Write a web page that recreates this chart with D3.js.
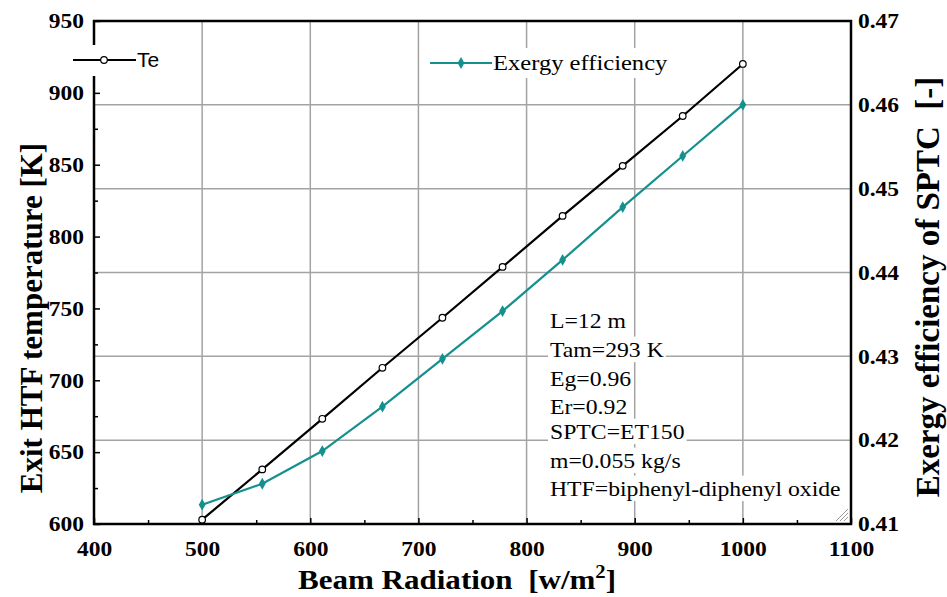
<!DOCTYPE html>
<html><head><meta charset="utf-8">
<script src="https://cdn.jsdelivr.net/npm/d3@7"></script>
<style>html,body{margin:0;padding:0;background:#fff;}svg{display:block;} text{white-space:pre;}</style>
</head><body>
<svg id="chart" width="947" height="597"></svg>
<script>
const radiation = [500, 555.6, 611.1, 666.7, 722.2, 777.8, 833.3, 888.9, 944.4, 1000];
const exitTemp = [603, 638, 673.2, 708.7, 743.5, 778.9, 814.4, 849.2, 883.9, 920.1];
const exergyEff = [0.4123, 0.4148, 0.4187, 0.4240, 0.4297, 0.4354, 0.4415, 0.4478, 0.4539, 0.4600];
const xTicks = [400, 500, 600, 700, 800, 900, 1000, 1100];
const yLeftTicks = [600, 650, 700, 750, 800, 850, 900, 950];
const yRightTicks = [0.41, 0.42, 0.43, 0.44, 0.45, 0.46, 0.47];
const notes = ["L=12 m", "Tam=293 K", "Eg=0.96", "Er=0.92", "SPTC=ET150", "m=0.055 kg/s", "HTF=biphenyl-diphenyl oxide"];

const svg = d3.select("#chart");
const L = 94, R = 851, T = 21, B = 524;
const x = d3.scaleLinear().domain([400, 1100]).range([L, R]);
const yL = d3.scaleLinear().domain([600, 950]).range([B, T]);
const yR = d3.scaleLinear().domain([0.41, 0.47]).range([B, T]);
const serif = "'Liberation Serif','Times New Roman',serif";
const teal = "#14908e";

function stretch(sel, sx) {
  sel.each(function () {
    const t = d3.select(this);
    const ax = +t.attr("x") || 0;
    t.attr("transform", `translate(${ax},0) scale(${sx},1) translate(${-ax},0)`);
  });
}

// gridlines
const grid = svg.append("g").attr("stroke", "#a3a3a3").attr("stroke-width", 1.5);
xTicks.slice(1, -1).forEach(v => grid.append("line").attr("x1", x(v)).attr("x2", x(v)).attr("y1", T).attr("y2", B));
yRightTicks.slice(1, -1).forEach(v => grid.append("line").attr("x1", L).attr("x2", R).attr("y1", yR(v)).attr("y2", yR(v)));

// axes
const axB = d3.axisBottom(x).tickValues(xTicks).tickSizeInner(-6).tickSizeOuter(0).tickPadding(17).tickFormat(d3.format("d"));
const axL = d3.axisLeft(yL).tickValues(yLeftTicks).tickSizeInner(-6).tickSizeOuter(0).tickPadding(10).tickFormat(d3.format("d"));
const axR = d3.axisRight(yR).tickValues(yRightTicks).tickSizeInner(-6).tickSizeOuter(0).tickFormat(d3.format(".2f")).tickPadding(7);
const minorB = d3.axisBottom(x).tickValues(d3.range(450, 1100, 100)).tickSize(-4).tickFormat("");
const minorL = d3.axisLeft(yL).tickValues(d3.range(625, 950, 50)).tickSize(-4).tickFormat("");

function styleAxis(g) {
  g.select(".domain").remove();
  g.selectAll(".tick line").attr("stroke", "#000").attr("stroke-width", 1.5);
  g.selectAll("text").attr("font-family", serif).attr("font-weight", "bold").attr("font-size", 21).attr("fill", "#000");
  stretch(g.selectAll("text"), 1.12);
}
svg.append("g").attr("transform", `translate(0,${B})`).call(axB).call(styleAxis);
svg.append("g").attr("transform", `translate(0,${B})`).call(minorB).call(styleAxis);
svg.append("g").attr("transform", `translate(${L},0)`).call(axL).call(styleAxis);
svg.append("g").attr("transform", `translate(${L},0)`).call(minorL).call(styleAxis);
const gR = svg.append("g").attr("transform", `translate(${R},0)`).call(axR).call(styleAxis);
gR.selectAll(".tick line").remove();

// annotation lines (white background per line)
const noteY = [321, 350, 379, 407, 432, 461, 489];
const ann = svg.append("g");
notes.forEach((t, i) => {
  const txt = ann.append("text").attr("x", 550).attr("y", noteY[i]).attr("dy", "0.35em")
    .attr("font-family", serif).attr("font-size", 21).attr("fill", "#000").text(t);
  stretch(txt, 1.13);
  const bb = txt.node().getBBox();
  const w = bb.width * 1.13;
  ann.insert("rect", "text").attr("x", 550 - 2).attr("y", bb.y - 2).attr("width", w + 4).attr("height", bb.height + 2).attr("fill", "#fff");
});

// series lines
const lineTe = d3.line().x((d, i) => x(radiation[i])).y(d => yL(d));
const lineEx = d3.line().x((d, i) => x(radiation[i])).y(d => yR(d));
svg.append("path").datum(exitTemp).attr("d", lineTe).attr("fill", "none").attr("stroke", "#000").attr("stroke-width", 2.2);
svg.append("path").datum(exergyEff).attr("d", lineEx).attr("fill", "none").attr("stroke", teal).attr("stroke-width", 2.2);
svg.selectAll(".mTe").data(exitTemp).join("circle").attr("cx", (d, i) => x(radiation[i])).attr("cy", d => yL(d))
  .attr("r", 3.3).attr("fill", "#fff").attr("stroke", "#000").attr("stroke-width", 1.2);
const diamond = d3.symbol().type(d3.symbolDiamond).size(40);
svg.selectAll(".mEx").data(exergyEff).join("path").attr("d", diamond)
  .attr("transform", (d, i) => `translate(${x(radiation[i])},${yR(d)})`).attr("fill", teal);

// frame
svg.append("rect").attr("x", L).attr("y", T).attr("width", R - L).attr("height", B - T)
  .attr("fill", "none").attr("stroke", "#000").attr("stroke-width", 2.5);

// legend 1
const lg1 = svg.append("g");
lg1.append("rect").attr("x", 70).attr("y", 45).attr("width", 95).attr("height", 31).attr("fill", "#fff");
lg1.append("line").attr("x1", 73).attr("x2", 136).attr("y1", 60).attr("y2", 60).attr("stroke", "#000").attr("stroke-width", 2.2);
lg1.append("circle").attr("cx", 104).attr("cy", 60).attr("r", 3.3).attr("fill", "#fff").attr("stroke", "#000").attr("stroke-width", 1.2);
lg1.append("text").attr("x", 137).attr("y", 60).attr("dy", "0.35em").attr("font-family", "'Liberation Sans',Arial,sans-serif")
  .attr("font-size", 21).attr("fill", "#000").text("Te");

// legend 2
const lg2 = svg.append("g");
lg2.append("rect").attr("x", 426).attr("y", 48).attr("width", 246).attr("height", 30).attr("fill", "#fff");
lg2.append("line").attr("x1", 430).attr("x2", 492).attr("y1", 63).attr("y2", 63).attr("stroke", teal).attr("stroke-width", 2.2);
lg2.append("path").attr("d", diamond).attr("transform", "translate(461,63)").attr("fill", teal);
const lt2 = lg2.append("text").attr("x", 493).attr("y", 63).attr("dy", "0.35em").attr("font-family", serif)
  .attr("font-size", 21).attr("fill", "#000").text("Exergy efficiency");
stretch(lt2, 1.17);

// resize grip
const grip = svg.append("g").attr("stroke", "#999").attr("stroke-width", 1);
[4, 8, 12].forEach(k => grip.append("line").attr("x1", R - 3 - k).attr("y1", B - 3).attr("x2", R - 3).attr("y2", B - 3 - k));

// axis titles
const bt = svg.append("text").attr("x", 457).attr("y", 589).attr("text-anchor", "middle")
  .attr("font-family", serif).attr("font-weight", "bold").attr("font-size", 27).attr("fill", "#000");
bt.append("tspan").text("Beam Radiation  [w/m");
bt.append("tspan").attr("dy", -11).attr("font-size", 18).text("2");
bt.append("tspan").attr("dy", 11).text("]");
stretch(bt, 1.15);

svg.append("text").attr("transform", "translate(42,318) rotate(-90)").attr("text-anchor", "middle")
  .attr("font-family", serif).attr("font-weight", "bold").attr("font-size", 31).attr("fill", "#000")
  .text("Exit HTF temperature [K]");
svg.append("text").attr("transform", "translate(939,287) rotate(-90)").attr("text-anchor", "middle")
  .attr("font-family", serif).attr("font-weight", "bold").attr("font-size", 33).attr("fill", "#000")
  .text("Exergy efficiency of SPTC  [-]");
</script>
</body></html>
